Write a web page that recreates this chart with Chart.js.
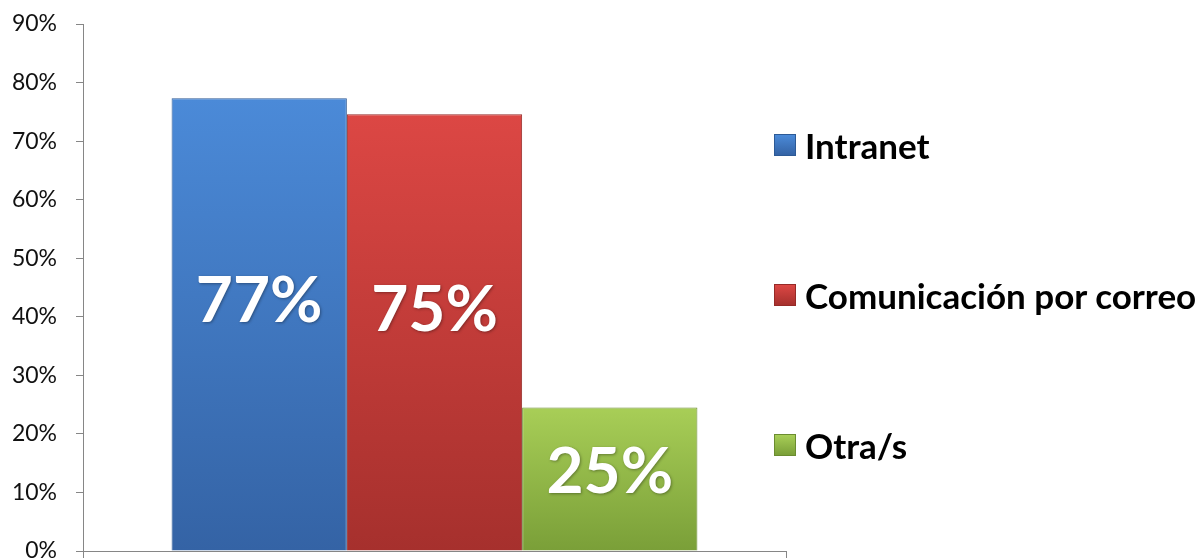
<!DOCTYPE html>
<html>
<head>
<meta charset="utf-8">
<script src="https://cdn.jsdelivr.net/npm/chart.js@4/dist/chart.umd.min.js"></script>
<style>
    html, body {
        margin: 0;
        padding: 0;
        background: #ffffff;
    }
    #wrap {
        position: relative;
        width: 1196px;
        height: 559px;
        overflow: hidden;
    }
    #legend {
        position: absolute;
        left: 774px;
        top: 0;
    }
    .item {
        position: absolute;
        left: 0;
        display: flex;
        align-items: center;
        white-space: nowrap;
        font-family: Lato, "Open Sans", sans-serif;
        font-weight: bold;
        font-size: 35px;
        color: #000;
        height: 30px;
    }
    .box {
        width: 22px;
        height: 22px;
        margin-right: 9px;
        box-sizing: border-box;
    }
</style>
</head>
<body>
<div id="wrap">
    <canvas id="chart" width="1196" height="559"></canvas>
    <div id="legend"></div>
</div>

<script>
// =====================================
// Data
// =====================================

const seriesNames = ["Intranet", "Comunicación por correo", "Otra/s"];
const seriesValues = [77.3, 74.6, 24.5];
const tickValues = [0, 10, 20, 30, 40, 50, 60, 70, 80, 90];

const topColors = ["#4b8ad8", "#dc4744", "#a8ce57"];
const bottomColors = ["#3463a5", "#a6302d", "#7a9f38"];
const edgeColors = ["#2d5a96", "#962a27", "#6b8c30"];

// =====================================
// Helpers
// =====================================

function barGradient(ctx, i) {
    const chart = ctx.chart;
    const area = chart.chartArea;
    if (!area) return topColors[i];
    const yTop = chart.scales.y.getPixelForValue(seriesValues[i]);
    const g = chart.ctx.createLinearGradient(0, yTop, 0, area.bottom);
    g.addColorStop(0, topColors[i]);
    g.addColorStop(1, bottomColors[i]);
    return g;
}

// labels inside the bars
const barLabels = {
    id: "barLabels",
    afterDatasetsDraw(chart) {
        const ctx = chart.ctx;
        ctx.save();
        ctx.font = "bold 64px Lato, 'Open Sans', sans-serif";
        ctx.fillStyle = "#ffffff";
        ctx.textAlign = "center";
        ctx.textBaseline = "middle";
        ctx.shadowColor = "rgba(0,0,0,0.35)";
        ctx.shadowBlur = 3;
        ctx.shadowOffsetX = 1;
        ctx.shadowOffsetY = 1;
        chart.data.datasets.forEach((ds, i) => {
            const bar = chart.getDatasetMeta(i).data[0];
            const h = bar.base - bar.y;
            const y = (bar.y + bar.base) / 2 - h * 0.05;
            ctx.fillText(Math.round(ds.data[0]) + "%", bar.x, y);
        });
        ctx.restore();
    }
};

// =====================================
// Chart
// =====================================

const chart = new Chart(document.getElementById("chart"), {
    type: "bar",
    data: {
        labels: [""],
        datasets: seriesNames.map((name, i) => ({
            label: name,
            data: [seriesValues[i]],
            backgroundColor: (ctx) => barGradient(ctx, i),
            borderColor: edgeColors[i],
            borderWidth: 1,
            borderSkipped: "bottom",
            barPercentage: 1,
            categoryPercentage: 0.748
        }))
    },
    options: {
        responsive: false,
        animation: false,
        layout: {
            padding: { left: 0, right: 410, top: 24, bottom: 0 }
        },
        plugins: {
            legend: { display: false },
            tooltip: { enabled: false }
        },
        scales: {
            x: {
                offset: true,
                ticks: { display: false },
                grid: {
                    offset: true,
                    drawOnChartArea: false,
                    drawTicks: true,
                    tickLength: 7,
                    color: "#868686"
                },
                border: { color: "#868686", width: 1 },
                afterFit(s) {
                    s.height = 8;
                    s.paddingLeft = 0;
                    s.paddingRight = 0;
                }
            },
            y: {
                min: 0,
                max: 90,
                afterBuildTicks(s) {
                    s.ticks = tickValues.map(v => ({ value: v }));
                },
                ticks: {
                    padding: 19,
                    color: "#111111",
                    font: { family: "Lato, 'Open Sans', sans-serif", size: 23 },
                    callback: (v) => v + "%"
                },
                grid: {
                    drawOnChartArea: false,
                    drawTicks: true,
                    tickLength: 7,
                    color: "#868686"
                },
                border: { color: "#868686", width: 1 },
                afterFit(s) {
                    s.width = 83;
                    s.paddingTop = 0;
                    s.paddingBottom = 0;
                }
            }
        }
    },
    plugins: [barLabels]
});

// =====================================
// Legend
// =====================================

const legendCenters = [145, 295, 445];
const legend = document.getElementById("legend");

seriesNames.forEach((name, i) => {
    const item = document.createElement("div");
    item.className = "item";
    item.style.top = (legendCenters[i] - 15) + "px";
    const box = document.createElement("div");
    box.className = "box";
    box.style.background = "linear-gradient(" + topColors[i] + ", " + bottomColors[i] + ")";
    box.style.border = "1px solid " + edgeColors[i];
    const text = document.createElement("span");
    text.textContent = name;
    item.appendChild(box);
    item.appendChild(text);
    legend.appendChild(item);
});
</script>
</body>
</html>
